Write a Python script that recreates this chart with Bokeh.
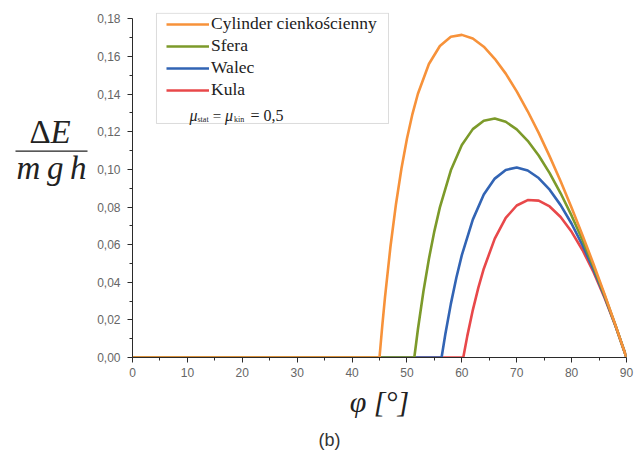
from bokeh.plotting import figure
from bokeh.layouts import row, column
from bokeh.models import (FixedTicker, CustomJSTickFormatter, Label, BoxAnnotation, Range1d)
from bokeh.embed import file_html
from bokeh.resources import INLINE

# ---- data ----
x_cyl = [0, 45, 45.5, 46, 47, 48, 49, 50, 51, 52, 54, 56, 58, 60, 62, 64, 66, 68,
         70, 72, 74, 76, 78, 80, 82, 84, 86, 88, 90]
y_cyl = [0, 0, 0.0167, 0.0320, 0.0590, 0.0815, 0.1005, 0.1163, 0.1294, 0.1402,
         0.1560, 0.1656, 0.1705, 0.1715, 0.1696, 0.1652, 0.1588, 0.1509, 0.1415,
         0.1309, 0.1194, 0.1069, 0.0937, 0.0796, 0.0649, 0.0496, 0.0337, 0.0171, 0]

x_sfera = [0, 51.34, 51.7, 52, 53, 54, 55, 56, 58, 60, 62, 64, 66, 68, 70, 72, 74,
           76, 78, 80, 82, 84, 86, 88, 90]
y_sfera = [0, 0, 0.0081, 0.0150, 0.0351, 0.0524, 0.0672, 0.0798, 0.0995, 0.1130,
           0.1214, 0.1259, 0.1270, 0.1253, 0.1213, 0.1152, 0.1074, 0.0980, 0.0873,
           0.0754, 0.0623, 0.0482, 0.0331, 0.0170, 0]

x_walec = [0, 56.31, 57, 58, 59, 60, 62, 64, 66, 68, 70, 72, 74, 76, 78, 80, 82, 84,
           86, 88, 90]
y_walec = [0, 0, 0.0125, 0.0285, 0.0424, 0.0544, 0.0733, 0.0866, 0.0951, 0.0997,
           0.1010, 0.0994, 0.0954, 0.0892, 0.0810, 0.0711, 0.0596, 0.0467, 0.0324,
           0.0168, 0]

x_kula = [0, 60.26, 61, 62, 63, 64, 66, 68, 70, 72, 74, 76, 78, 80, 82, 84, 86, 88, 90]
y_kula = [0, 0, 0.0115, 0.0252, 0.0370, 0.0472, 0.0632, 0.0742, 0.0808, 0.0837,
          0.0834, 0.0803, 0.0747, 0.0668, 0.0570, 0.0453, 0.0318, 0.0167, 0]

series_names = ["Cylinder cienkościenny", "Sfera", "Walec", "Kula"]
series_colors = ["#F7923A", "#7C9A2A", "#3264B4", "#E8484A"]

x_ticks = [0, 10, 20, 30, 40, 50, 60, 70, 80, 90]
x_minor = [5, 15, 25, 35, 45, 55, 65, 75, 85]
y_ticks = [0.0, 0.02, 0.04, 0.06, 0.08, 0.10, 0.12, 0.14, 0.16, 0.18]
y_minor = [0.01, 0.03, 0.05, 0.07, 0.09, 0.11, 0.13, 0.15, 0.17]

mu_text = "0,5"
x_label = "φ [°]"
panel_tag = "(b)"

INK = "#222222"
SERIF = "Liberation Serif"

# ---- left strip: the y label written as a fraction ----
lf = figure(width=92, height=426, x_range=Range1d(0, 92), y_range=Range1d(426, 0),
            output_backend="svg", toolbar_location=None, min_border=0,
            x_axis_type=None, y_axis_type=None)
lf.outline_line_color = None
lf.grid.visible = False

def lab(fig, x, y, text, size, style="normal", font=SERIF, align="left",
        baseline="alphabetic", color=INK):
    fig.add_layout(Label(x=x, y=y, text=text, text_font=font, text_font_size=size,
                         text_font_style=style, text_align=align, text_baseline=baseline,
                         text_color=color))

lab(lf, 29, 147, "Δ", "33px")
lab(lf, 50, 147, "E", "33px", "italic")
lf.add_layout(BoxAnnotation(left=15, right=87, top=170.4, bottom=171.8,
                            fill_color=INK, fill_alpha=1.0, line_alpha=0))
lab(lf, 16, 192, "m\u2009g\u2009h", "33px", "italic")

# ---- main plot ----
p = figure(width=547, height=426, output_backend="svg", toolbar_location=None,
           x_range=Range1d(0, 90), y_range=Range1d(0, 0.1834),
           min_border_left=40, min_border_right=13, min_border_top=12,
           min_border_bottom=69)
p.outline_line_color = None
p.grid.visible = False
p.background_fill_color = "white"

# legend frame (drawn first, under everything else)
p.add_layout(BoxAnnotation(left=4.37, right=46.64, bottom=0.1244, top=0.1830,
                           fill_color="white", fill_alpha=1.0, line_color="#8a8a8a",
                           line_width=1))

lw = 2.6
r_kula = p.line(x_kula, y_kula, line_color=series_colors[3], line_width=lw,
                line_join="round", legend_label=series_names[3])
r_walec = p.line(x_walec, y_walec, line_color=series_colors[2], line_width=lw,
                 line_join="round", legend_label=series_names[2])
r_sfera = p.line(x_sfera, y_sfera, line_color=series_colors[1], line_width=lw,
                 line_join="round", legend_label=series_names[1])
r_cyl = p.line(x_cyl, y_cyl, line_color=series_colors[0], line_width=lw,
               line_join="round", legend_label=series_names[0])

leg = p.legend[0]
leg.items = list(reversed(leg.items))
leg.location = (34, 257)
leg.border_line_alpha = 0
leg.background_fill_alpha = 0
leg.padding = 0
leg.margin = 0
leg.spacing = 1
leg.glyph_width = 43
leg.glyph_height = 20
leg.label_height = 20
leg.label_standoff = 2
leg.label_text_font = SERIF
leg.label_text_font_size = "17.5px"
leg.label_text_color = INK

for ax in (p.xaxis[0], p.yaxis[0]):
    ax.axis_line_color = "#2b2b2b"
    ax.major_tick_line_color = "#2b2b2b"
    ax.minor_tick_line_color = "#2b2b2b"
    ax.major_tick_in = 0
    ax.major_tick_out = 5
    ax.minor_tick_in = 0
    ax.minor_tick_out = 3
    ax.major_label_text_font = "Liberation Sans"
    ax.major_label_text_font_size = "12px"
    ax.major_label_text_color = "#666666"

p.xaxis.ticker = FixedTicker(ticks=x_ticks, minor_ticks=x_minor)
p.xaxis.bounds = (0, 90)
p.xaxis.major_label_standoff = 5
p.xaxis.axis_label = x_label
p.xaxis.axis_label_text_font = SERIF
p.xaxis.axis_label_text_font_style = "italic"
p.xaxis.axis_label_text_font_size = "30px"
p.xaxis.axis_label_text_color = INK
p.xaxis.axis_label_standoff = 5

p.yaxis.ticker = FixedTicker(ticks=y_ticks, minor_ticks=y_minor)
p.yaxis.bounds = (0, 0.18)
p.yaxis.major_label_standoff = 7
p.yaxis.formatter = CustomJSTickFormatter(code="return tick.toFixed(2).replace('.', ',');")

# mu line inside the legend frame
lab(p, 10.38, 0.12850, "μ", "16px", "italic")
lab(p, 11.84, 0.12663, "stat", "8px")
lab(p, 14.60, 0.12850, "=", "15px")
lab(p, 16.85, 0.12850, "μ", "16px", "italic")
lab(p, 18.50, 0.12663, "kin", "8px")
lab(p, 21.50, 0.12850, "= " + mu_text, "16px")

# ---- bottom strip: panel tag ----
bf = figure(width=639, height=30, x_range=Range1d(0, 639), y_range=Range1d(30, 0),
            output_backend="svg", toolbar_location=None, min_border=0,
            x_axis_type=None, y_axis_type=None)
bf.outline_line_color = None
bf.grid.visible = False
lab(bf, 329, 13, panel_tag, "18px", font="Liberation Sans", align="center",
    baseline="middle", color="#333333")

layout = column(row(lf, p), bf)
open("out.html", "w").write(file_html(layout, INLINE))
